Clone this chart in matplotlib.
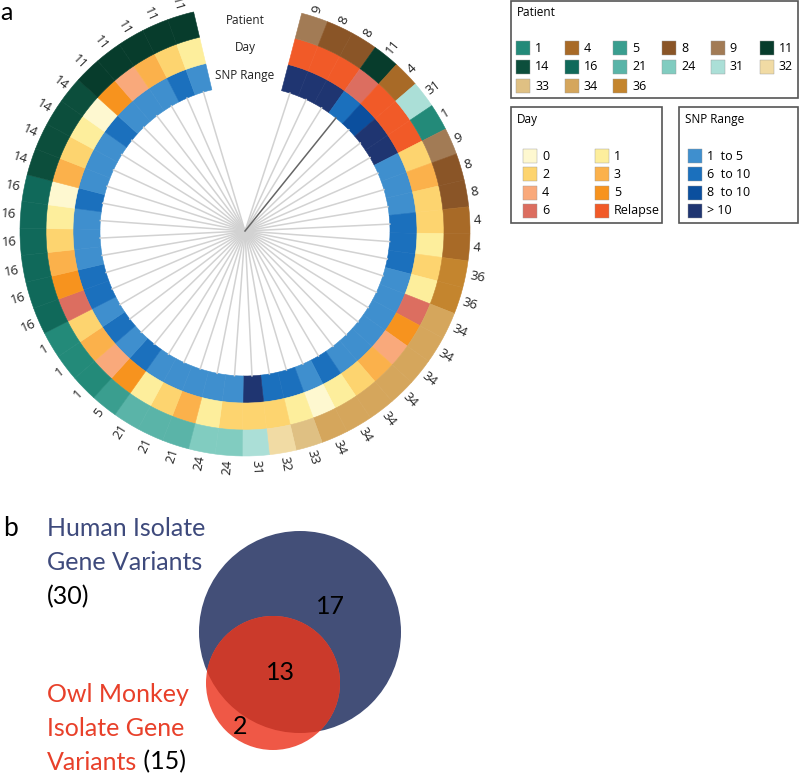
import numpy as np
import matplotlib
matplotlib.use("Agg")
from matplotlib import pyplot as plt
from matplotlib.patches import Rectangle, Circle

plt.rcParams["font.family"] = ["Open Sans", "DejaVu Sans"]

# segments clockwise from the right edge of the gap at the top
patients = ["9", "8", "8", "11", "4", "31", "1", "9", "8", "8", "4", "4", "36", "36",
            "34", "34", "34", "34", "34", "34", "34", "33", "32", "31", "24", "24",
            "21", "21", "21", "5", "1", "1", "1",
            "16", "16", "16", "16", "16", "16", "14", "14", "14", "14",
            "11", "11", "11", "11", "11"]
days = ["Relapse", "Relapse", "Relapse", "6", "Relapse", "Relapse", "Relapse",
        "2", "3", "2", "2", "1", "2", "1",
        "6", "5", "4", "3", "2", "1", "0",
        "1", "2", "2", "2", "1",
        "3", "2", "1", "5", "4", "3", "2",
        "6", "5", "3", "2", "1", "0",
        "3", "2", "1", "0",
        "5", "4", "3", "2", "1"]
snp_ranges = [">10", ">10", ">10", "6-10", "8-10", ">10", ">10",
              "1-5", "1-5", "1-5", "6-10", "6-10", "6-10",
              "1-5", "1-5", "1-5", "1-5", "1-5", "1-5",
              "6-10", "1-5", "6-10", "6-10", ">10",
              "1-5", "1-5", "1-5", "1-5", "1-5", "6-10", "1-5", "6-10", "1-5",
              "6-10", "6-10", "1-5", "1-5", "1-5", "6-10",
              "1-5", "1-5", "1-5", "6-10", "1-5", "1-5", "1-5", "6-10", "1-5"]
highlight = 3  # the darker spoke

patient_keys = ["1", "4", "5", "8", "9", "11", "14", "16", "21", "24", "31", "32", "33", "34", "36"]
patient_colors = ["#238a79", "#a86a27", "#3a9e8f", "#8a5527", "#a27b55", "#073c2c", "#0c4e3c",
                  "#10695a", "#5ab4a8", "#81ccc0", "#abdfd7", "#f1dba4", "#dfc083", "#d5a65c", "#c4852e"]
day_keys = ["0", "1", "2", "3", "4", "5", "6", "Relapse"]
day_colors = ["#fef8d0", "#fdee9c", "#fdd46f", "#fbb14b", "#f9a97b", "#f7931e", "#dc6e60", "#f15a28"]
snp_keys = ["1-5", "6-10", "8-10", ">10"]
snp_labels = ["1  to 5", "6  to 10", "8  to 10", "> 10"]
snp_colors = ["#3f8fce", "#1b70bd", "#0b4f9e", "#1f3571"]

venn_labels = ["17", "13", "2"]

pcol = dict(zip(patient_keys, patient_colors))
dcol = dict(zip(day_keys, day_colors))
scol = dict(zip(snp_keys, snp_colors))

W, H = 800, 773
fig = plt.figure(figsize=(W / 100, H / 100), dpi=100)

# circular heatmap on a polar axes whose radius unit is one pixel
cx, cy, R = 245, 231, 240
ax = fig.add_axes([(cx - R) / W, (H - cy - R) / H, 2 * R / W, 2 * R / H], projection="polar")
ax.set_theta_zero_location("N")
ax.set_theta_direction(-1)
ax.set_ylim(0, R)
ax.set_axis_off()

n = len(patients)
start_deg, end_deg = 14.6, 346.8
step = (end_deg - start_deg) / n
centers_deg = start_deg + step * (np.arange(n) + 0.5)
theta = np.deg2rad(centers_deg)
width = np.deg2rad(step)

rings = [(145, 27, [scol[s] for s in snp_ranges]),
         (172, 27, [dcol[d] for d in days]),
         (199, 26, [pcol[p] for p in patients])]
for bottom, h, cols in rings:
    ax.bar(theta, h, width=width, bottom=bottom, color=cols, edgecolor=cols, linewidth=0.4)

for i, t in enumerate(theta):
    c = "#666666" if i == highlight else "#d2d2d2"
    ax.plot([t, t], [0, 145], color=c, lw=1.1, zorder=1 if i != highlight else 2)

for t, d, lab in zip(theta, centers_deg, patients):
    if d < 180:
        rot, ha = 90 - d, "left"
    else:
        rot, ha = 270 - d, "right"
    ax.text(t, 229, lab, rotation=rot, rotation_mode="anchor", ha=ha, va="center",
            fontsize=9.5, color="#222222")

for lab, r in [("Patient", 210), ("Day", 183), ("SNP Range", 156)]:
    ax.text(0, r, lab, ha="center", va="center", fontsize=8.5, color="#222222")

# overlay in pixel coordinates for legends and venn
ov = fig.add_axes([0, 0, 1, 1])
ov.set_xlim(0, W)
ov.set_ylim(H, 0)
ov.axis("off")

ov.text(0, 12, "a", fontsize=18, va="center", ha="left", family=["Lato", "DejaVu Sans"])

box_kw = dict(fill=False, edgecolor="#555555", lw=1.2)
ov.add_patch(Rectangle((511, 1), 287, 97, **box_kw))
ov.add_patch(Rectangle((511, 107), 151, 116, **box_kw))
ov.add_patch(Rectangle((679, 107), 119, 116, **box_kw))

sw = 14
ov.text(517, 13, "Patient", fontsize=8.5, va="center")
for i, (k, c) in enumerate(zip(patient_keys, patient_colors)):
    x = 516 + (i % 6) * 48.7
    y = 41 + (i // 6) * 19
    ov.add_patch(Rectangle((x, y), sw, sw, facecolor=c, edgecolor="#999999", lw=0.3))
    ov.text(x + sw + 5, y + sw / 2, k, fontsize=9, va="center")

ov.text(517, 119, "Day", fontsize=8.5, va="center")
for i, (k, c) in enumerate(zip(day_keys, day_colors)):
    x = 523 + (i % 2) * 72
    y = 149 + (i // 2) * 18.3
    ov.add_patch(Rectangle((x, y), sw, sw, facecolor=c, edgecolor="#999999", lw=0.3))
    ov.text(x + sw + 5, y + sw / 2, k, fontsize=9, va="center")

ov.text(685, 119, "SNP Range", fontsize=8.5, va="center")
for i, (k, c) in enumerate(zip(snp_labels, snp_colors)):
    y = 149 + i * 18.3
    ov.add_patch(Rectangle((688, y), sw, sw, facecolor=c, edgecolor="#999999", lw=0.3))
    ov.text(688 + sw + 5, y + sw / 2, k, fontsize=9, va="center")

# venn
vf = ["Lato", "DejaVu Sans"]
human = Circle((300, 632), 101, facecolor="#434f78", edgecolor="none")
owl = Circle((273, 683), 67, facecolor="#ef5846", edgecolor="none")
both = Circle((273, 683), 67, facecolor="#cb3a2b", edgecolor="none")
ov.add_patch(human)
ov.add_patch(owl)
ov.add_patch(both)
both.set_clip_path(human)

ov.text(330, 607, venn_labels[0], fontsize=18, ha="center", va="center", family=vf)
ov.text(280, 673, venn_labels[1], fontsize=18, ha="center", va="center", family=vf)
ov.text(240, 727, venn_labels[2], fontsize=18, ha="center", va="center", family=vf)

ov.text(3, 528, "b", fontsize=19, va="center", family=vf)
blue_t, red_t = "#3e4a7c", "#e8402a"
fs = 18
ov.text(47, 528, "Human Isolate", fontsize=fs, va="center", color=blue_t, family=vf)
ov.text(47, 562, "Gene Variants", fontsize=fs, va="center", color=blue_t, family=vf)
ov.text(47, 597, "(30)", fontsize=fs, va="center", color="black", family=vf)
ov.text(47, 695, "Owl Monkey", fontsize=fs, va="center", color=red_t, family=vf)
ov.text(47, 728, "Isolate Gene", fontsize=fs, va="center", color=red_t, family=vf)
t1 = ov.text(47, 762, "Variants", fontsize=fs, va="center", color=red_t, family=vf)
ov.annotate(" (15)", xycoords=t1, xy=(1, 0.5), va="center", ha="left",
            fontsize=fs, color="black", family=vf)

fig.savefig("out.png", dpi=100)
